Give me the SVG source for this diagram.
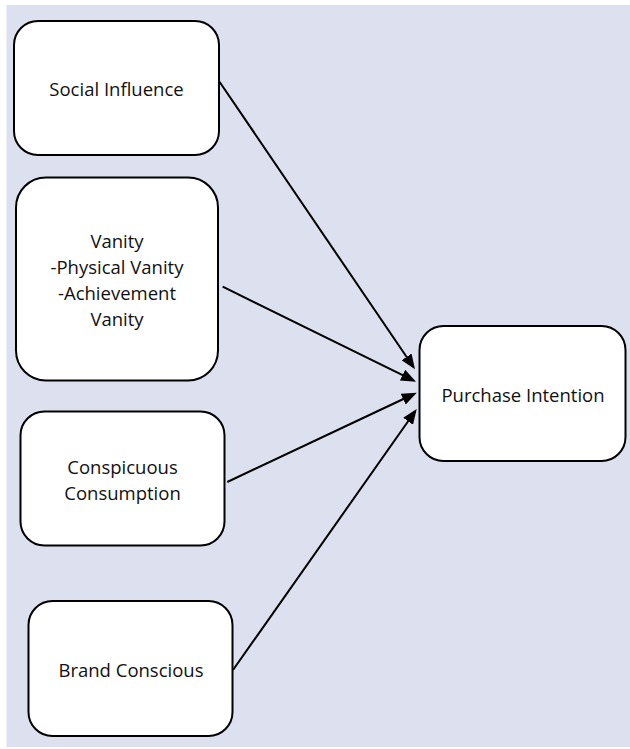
<svg xmlns="http://www.w3.org/2000/svg" width="630" height="749" viewBox="0 0 630 749">
  <style>
    .box { fill: #ffffff; stroke: #000000; stroke-width: 2; }
    .lbl { font-family: "Open Sans", "Liberation Sans", sans-serif; font-size: 18.5px; fill: #111111; text-anchor: middle; }
    .conn { stroke: #000000; stroke-width: 2; fill: none; marker-end: url(#arrow); }
  </style>
  <defs>
    <marker id="arrow" markerUnits="userSpaceOnUse" markerWidth="15" markerHeight="12" refX="12" refY="6" orient="auto">
      <path d="M0,0 L15,6 L0,12 z" fill="#000000"/>
    </marker>
  </defs>
  <rect x="6.5" y="5" width="623.5" height="742" fill="#dce0ef"/>
  <g id="connectors">
    <path class="conn" d="M219.5,81.7 L413.3,366.8"/>
    <path class="conn" d="M222.7,286.7 L413.3,380.4"/>
    <path class="conn" d="M227.3,482 L414,394"/>
    <path class="conn" d="M233,670 L415,411.5"/>
  </g>
  <g id="social-influence">
    <rect class="box" x="14" y="21" width="205" height="134" rx="24" ry="24"/>
    <text class="lbl" x="116.5" y="96">Social Influence</text>
  </g>
  <g id="vanity">
    <rect class="box" x="16" y="177.5" width="202" height="203" rx="30" ry="30"/>
    <text class="lbl" x="117" y="247.5">Vanity</text>
    <text class="lbl" x="117" y="273.5">-Physical Vanity</text>
    <text class="lbl" x="117" y="299.5">-Achievement</text>
    <text class="lbl" x="117" y="325.5">Vanity</text>
  </g>
  <g id="conspicuous-consumption">
    <rect class="box" x="20.5" y="411.5" width="204" height="134" rx="24" ry="24"/>
    <text class="lbl" x="122.5" y="474">Conspicuous</text>
    <text class="lbl" x="122.5" y="500">Consumption</text>
  </g>
  <g id="brand-conscious">
    <rect class="box" x="28.5" y="601" width="204" height="135" rx="24" ry="24"/>
    <text class="lbl" x="131" y="676.5">Brand Conscious</text>
  </g>
  <g id="purchase-intention">
    <rect class="box" x="419.5" y="326" width="206" height="135" rx="24" ry="24"/>
    <text class="lbl" x="523" y="401.5">Purchase Intention</text>
  </g>
</svg>
